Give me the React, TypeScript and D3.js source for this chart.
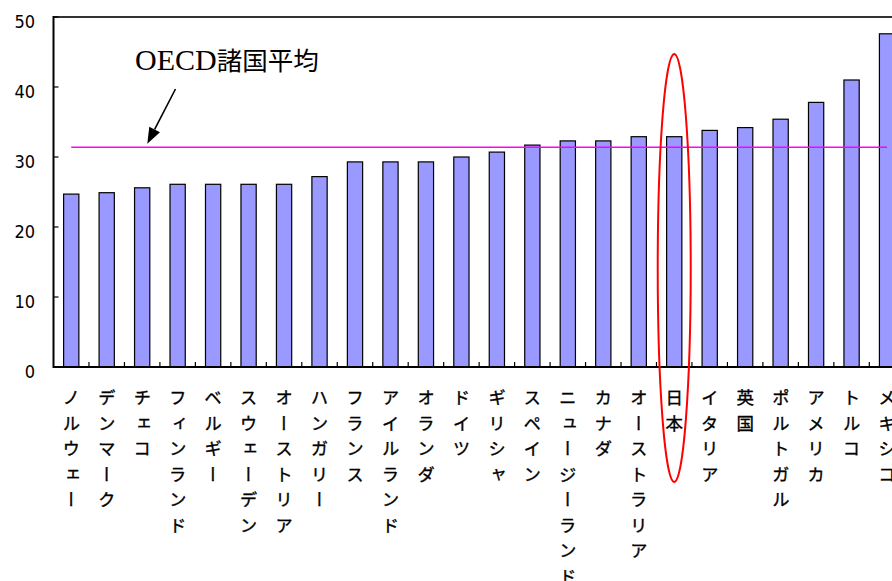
import React from "react";
import * as d3 from "d3";

const countries = [
  "ノルウェー", "デンマーク", "チェコ", "フィンランド", "ベルギー", "スウェーデン",
  "オーストリア", "ハンガリー", "フランス", "アイルランド", "オランダ", "ドイツ",
  "ギリシャ", "スペイン", "ニュージーランド", "カナダ", "オーストラリア", "日本",
  "イタリア", "英国", "ポルトガル", "アメリカ", "トルコ", "メキシコ",
];
const values = [
  24.7, 24.9, 25.6, 26.1, 26.1, 26.1,
  26.1, 27.2, 29.3, 29.3, 29.3, 30.0,
  30.7, 31.7, 32.3, 32.3, 32.9, 32.9,
  33.8, 34.2, 35.4, 37.8, 41.0, 47.6,
];
const oecdAverage = 31.4;
const yTicks = [0, 10, 20, 30, 40, 50];
const averageLabelLatin = "OECD";
const averageLabelKanji = "諸国平均";
const highlighted = "日本";

const W = 892;
const H = 581;
const left = 53.5;
const top = 17;
const bottom = 367;
const step = 35.47;
const right = left + step * countries.length;

export default function App() {
  const x = d3.scaleBand<string>().domain(countries).range([left, right]).paddingInner(0.57).paddingOuter(0.285);
  const band = d3.scaleBand<string>().domain(countries).range([left, right]);
  const y = d3.scaleLinear().domain([0, 50]).range([bottom, top]);
  const center = (c: string) => (band(c) as number) + band.bandwidth() / 2;

  const avgY = y(oecdAverage);
  const arrowTip = [147.3, avgY - 3.5];
  const arrowTail = [175.5, 89];
  const ang = Math.atan2(arrowTip[1] - arrowTail[1], arrowTip[0] - arrowTail[0]);
  const headLen = 16;
  const headHalf = 6;
  const bx = arrowTip[0] - headLen * Math.cos(ang);
  const by = arrowTip[1] - headLen * Math.sin(ang);
  const px = -Math.sin(ang) * headHalf;
  const py = Math.cos(ang) * headHalf;
  const head = `M${arrowTip[0]},${arrowTip[1]}L${bx + px},${by + py}L${bx - px},${by - py}Z`;

  return (
    <svg width={W} height={H} style={{ position: "absolute", left: 0, top: 0, background: "#fff" }}>
      {/* bars */}
      {countries.map((c, i) => (
        <rect
          key={c}
          x={x(c)}
          y={y(values[i])}
          width={x.bandwidth()}
          height={bottom - y(values[i])}
          fill="#9999ff"
          stroke="#000"
          strokeWidth={1.2}
        />
      ))}

      {/* OECD average line */}
      <line
        x1={center(countries[0])}
        x2={center(countries[countries.length - 1])}
        y1={avgY}
        y2={avgY}
        stroke="#ff00ff"
        strokeWidth={1.6}
      />

      {/* frame */}
      <line x1={left} x2={W} y1={top} y2={top} stroke="#333" strokeWidth={1.8} />
      <line x1={left} x2={left} y1={top - 0.9} y2={bottom + 1} stroke="#000" strokeWidth={2} />
      <line x1={left} x2={W} y1={bottom} y2={bottom} stroke="#000" strokeWidth={2} />

      {/* y ticks */}
      {yTicks.map((t) => (
        <g key={t}>
          <line x1={left} x2={left + 5} y1={y(t)} y2={y(t)} stroke="#000" strokeWidth={1.2} />
          <text
            x={35}
            y={y(t) + 10.5}
            textAnchor="end"
            fontFamily="'Liberation Sans Narrow', 'DejaVu Sans Condensed', sans-serif"
            fontSize={18}
            fill="#000"
          >
            {t}
          </text>
        </g>
      ))}

      {/* category ticks */}
      {countries.slice(1).map((c) => (
        <line key={c} x1={band(c)} x2={band(c)} y1={bottom} y2={bottom - 5} stroke="#000" strokeWidth={1.2} />
      ))}

      {/* category labels, written vertically */}
      {countries.map((c) => (
        <text
          key={c}
          x={center(c)}
          y={389}
          style={{ writingMode: "vertical-rl" as any, letterSpacing: "8px" }}
          fontFamily="'Noto Sans CJK JP', sans-serif"
          fontSize={17.5}
          fill="#000"
          stroke="#000"
          strokeWidth={0.35}
        >
          {c}
        </text>
      ))}

      {/* annotation */}
      <text x={135} y={70} fill="#000">
        <tspan fontFamily="'Liberation Serif', 'DejaVu Serif', serif" fontSize={30}>
          {averageLabelLatin}
        </tspan>
        <tspan fontFamily="'Noto Sans CJK JP', serif" fontSize={25.5}>
          {averageLabelKanji}
        </tspan>
      </text>
      <line x1={arrowTail[0]} y1={arrowTail[1]} x2={bx} y2={by} stroke="#000" strokeWidth={1.6} />
      <path d={head} fill="#000" />

      <ellipse cx={center(highlighted)} cy={268} rx={16.5} ry={214} fill="none" stroke="#ff0000" strokeWidth={2} />
    </svg>
  );
}
